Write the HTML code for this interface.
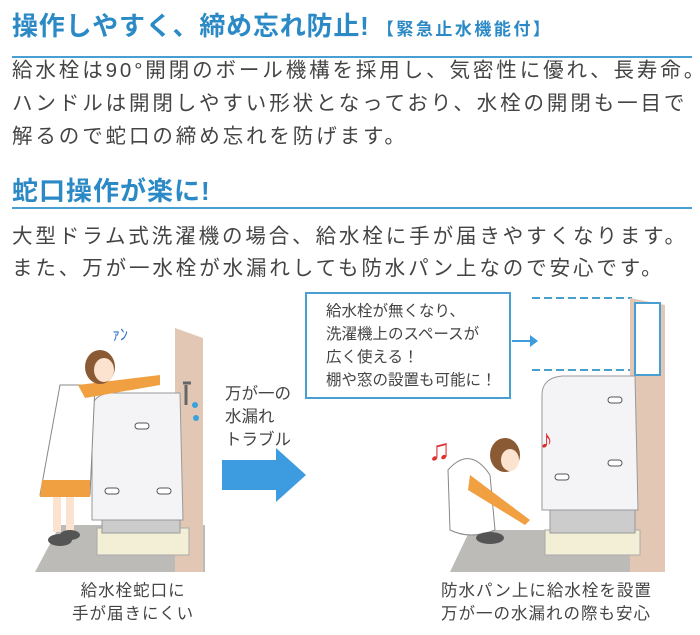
<!DOCTYPE html>
<html><head><meta charset="utf-8"><style>
body{margin:0;background:#fff;width:700px;height:635px;overflow:hidden;position:relative;font-family:"Liberation Sans","Noto Sans CJK JP",sans-serif;}
.t{position:absolute;white-space:nowrap;}
.h{color:#2b8ac6;font-size:26px;font-weight:bold;}
.b{color:#444;font-size:20.5px;left:12px;letter-spacing:2.9px;}
.s{color:#444;font-size:16.5px;}
.line{position:absolute;left:12px;width:680px;height:2px;background:#4a9fd2;}
</style></head><body>
<div class="t h" style="left:12px;top:6px;letter-spacing:0.8px;">操作しやすく、締め忘れ防止!<span style="font-size:17px;letter-spacing:2.5px;"> 【緊急止水機能付】</span></div>
<div class="line" style="top:56px;"></div>
<div class="t b" style="top:53px;">給水栓は90°開閉のボール機構を採用し、気密性に優れ、長寿命。</div>
<div class="t b" style="top:86px;">ハンドルは開閉しやすい形状となっており、水栓の開閉も一目で</div>
<div class="t b" style="top:119px;">解るので蛇口の締め忘れを防げます。</div>
<div class="t h" style="left:12px;top:171px;letter-spacing:1px;">蛇口操作が楽に!</div>
<div class="line" style="top:207px;"></div>
<div class="t b" style="top:219px;">大型ドラム式洗濯機の場合、給水栓に手が届きやすくなります。</div>
<div class="t b" style="top:251px;">また、万が一水栓が水漏れしても防水パン上なので安心です。</div>

<svg style="position:absolute;left:0;top:0" width="700" height="635">
<polygon points="35,572 205,572 205,525 60,525" fill="#bdbbb8"/>
<polygon points="175,328 203,338 203,572 175,572" fill="#e2c8b4"/>
<rect x="97" y="528" width="92" height="27" fill="#f2efd6" stroke="#aaa"/>
<rect x="102" y="505" width="78" height="28" fill="#ccc" stroke="#999"/>
<path d="M92,520 L92,410 Q92,395 110,393 L180,393 L183,520 Z" fill="#f4f4f6" stroke="#999"/>
<rect x="135" y="423" width="14" height="6" rx="3" fill="#fff" stroke="#555"/>
<rect x="105" y="488" width="14" height="6" rx="3" fill="#fff" stroke="#555"/>
<rect x="157" y="488" width="14" height="6" rx="3" fill="#fff" stroke="#555"/>
<path d="M60,385 L95,385 L90,495 L40,495 Z" fill="#fff" stroke="#888"/>
<path d="M42,480 L90,480 L90,497 L40,497 Z" fill="#f0a040"/>
<path d="M78,385 L160,375 L160,385 L85,398 Z" fill="#f0a040"/>
<ellipse cx="100" cy="367" rx="15" ry="17" fill="#8a5a34"/>
<ellipse cx="104" cy="370" rx="10" ry="12" fill="#fbe3d0"/>
<rect x="53" y="497" width="8" height="35" fill="#fbe3d0"/>
<rect x="66" y="497" width="8" height="35" fill="#fbe3d0"/>
<ellipse cx="60" cy="540" rx="12" ry="6" fill="#555"/>
<ellipse cx="70" cy="535" rx="10" ry="5" fill="#555"/>
<path d="M186,385 l0,20 M183,383 h8" stroke="#666" stroke-width="3"/>
<circle cx="195" cy="405" r="3" fill="#3aa0e0"/><circle cx="196" cy="418" r="3" fill="#3aa0e0"/>
<text x="112" y="340" fill="#2b6fd0" font-size="16">ｧﾝ</text>
<polygon points="222,460 276,460 276,448 306,475 276,502 276,490 222,490" fill="#3d9be0"/>
<rect x="306" y="293" width="204" height="105" fill="#fff" stroke="#4a9fd2" stroke-width="2"/>
<line x1="512" y1="341" x2="532" y2="341" stroke="#3d9be0" stroke-width="2"/>
<polygon points="530,335 538,341 530,347" fill="#3d9be0"/>
<line x1="532" y1="298" x2="632" y2="298" stroke="#4a9fd2" stroke-width="2" stroke-dasharray="8,4"/>
<line x1="532" y1="370" x2="632" y2="370" stroke="#4a9fd2" stroke-width="2" stroke-dasharray="8,4"/>
<polygon points="450,572 665,572 665,530 470,530" fill="#bdbbb8"/>
<polygon points="630,298 665,305 665,572 630,572" fill="#e2c8b4"/>
<rect x="635" y="303" width="25" height="72" fill="#fff" stroke="#4a9fd2" stroke-width="2"/>
<rect x="545" y="530" width="95" height="25" fill="#f2efd6" stroke="#aaa"/>
<rect x="550" y="505" width="85" height="28" fill="#ccc" stroke="#999"/>
<path d="M542,510 L542,395 Q542,378 562,376 L635,376 L638,510 Z" fill="#f4f4f6" stroke="#999"/>
<rect x="608" y="397" width="14" height="6" rx="3" fill="#fff" stroke="#555"/>
<rect x="608" y="460" width="14" height="6" rx="3" fill="#fff" stroke="#555"/>
<rect x="555" y="474" width="14" height="6" rx="3" fill="#fff" stroke="#555"/>
<path d="M448,470 Q470,445 490,475 L495,530 Q470,540 450,530 Z" fill="#fff" stroke="#888"/>
<path d="M470,475 L530,520 L525,525 L468,490 Z" fill="#f0a040"/>
<ellipse cx="505" cy="455" rx="15" ry="17" fill="#8a5a34"/>
<ellipse cx="510" cy="460" rx="9" ry="11" fill="#fbe3d0"/>
<ellipse cx="490" cy="538" rx="14" ry="6" fill="#555"/>
<text x="428" y="460" fill="#e03030" font-size="30">♫</text>
<text x="540" y="448" fill="#e03030" font-size="26">♪</text>
</svg>
<div class="t s" style="left:225px;top:383px;line-height:23px;">万が一の<br>水漏れ<br>トラブル</div>
<div class="t s" style="left:326px;top:300px;line-height:23px;font-size:15.5px;">給水栓が無くなり、<br>洗濯機上のスペースが<br>広く使える！<br>棚や窓の設置も可能に！</div>
<div class="t s" style="left:72px;top:580px;line-height:23px;text-align:center;letter-spacing:1px;">給水栓蛇口に<br>手が届きにくい</div>
<div class="t s" style="left:441px;top:580px;line-height:23px;letter-spacing:1px;">防水パン上に給水栓を設置<br>万が一の水漏れの際も安心</div>
</body></html>
